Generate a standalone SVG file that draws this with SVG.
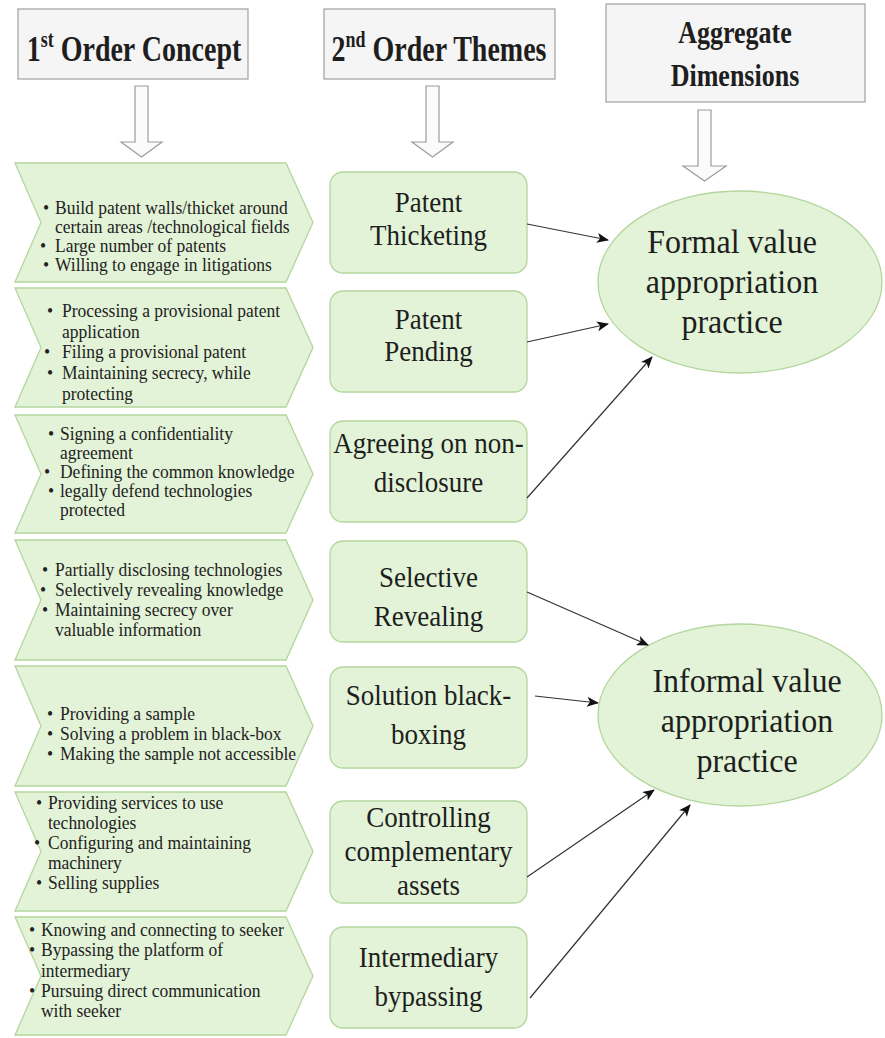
<svg xmlns="http://www.w3.org/2000/svg" width="885" height="1038" viewBox="0 0 885 1038">
  <defs>
    <marker id="arrowhead" viewBox="0 0 12 10" refX="11" refY="5" markerWidth="13" markerHeight="10" markerUnits="userSpaceOnUse" orient="auto">
      <path d="M0,0 L12,5 L0,10 L3,5 Z" fill="#111"/>
    </marker>
    <style>
      .hdr { fill: #f5f5f5; stroke: #a0a0a0; stroke-width: 1.2; }
      .hdr-text { font-family: "Liberation Serif", "Times New Roman", serif; font-weight: bold; fill: #1e1e1e; text-anchor: middle; }
      .hollow { fill: #fbfbfb; stroke: #9c9c9c; stroke-width: 1.2; }
      .green { fill: #e2f3d7; stroke: #b4d69d; stroke-width: 1.3; }
      .item { font-family: "Liberation Serif", "Times New Roman", serif; font-size: 17.5px; fill: #222; }
      .theme { font-family: "Liberation Serif", "Times New Roman", serif; font-size: 27px; fill: #1e1e1e; text-anchor: middle; }
      .dim { font-family: "Liberation Serif", "Times New Roman", serif; font-size: 32px; fill: #1e1e1e; text-anchor: middle; }
      .link { fill: none; stroke: #333; stroke-width: 1.2; marker-end: url(#arrowhead); }
    </style>
  </defs>

  <!-- Column headers -->
  <g id="header-first-order">
    <rect class="hdr" x="18" y="9" width="230" height="70"/>
    <text class="hdr-text" transform="translate(134,61) scale(1,1.3)" font-size="28">1<tspan font-size="18" dy="-11">st</tspan><tspan dy="11"> Order Concept</tspan></text>
  </g>
  <g id="header-second-order">
    <rect class="hdr" x="324" y="9" width="231" height="70"/>
    <text class="hdr-text" transform="translate(439,61) scale(1,1.3)" font-size="28">2<tspan font-size="18" dy="-11">nd</tspan><tspan dy="11"> Order Themes</tspan></text>
  </g>
  <g id="header-aggregate">
    <rect class="hdr" x="606" y="4" width="259" height="98"/>
    <text class="hdr-text" transform="translate(735,43) scale(1,1.25)" font-size="26">Aggregate</text>
    <text class="hdr-text" transform="translate(735,86) scale(1,1.25)" font-size="26">Dimensions</text>
  </g>

  <!-- Hollow down arrows under the headers -->
  <g id="down-arrows">
    <path class="hollow" d="M135,86 H148 V142 H162 L141.5,157 L121,142 H135 Z"/>
    <path class="hollow" d="M426,86 H439 V142 H453 L432.5,157 L412,142 H426 Z"/>
    <path class="hollow" d="M698,110 H711 V166 H726 L704.5,181 L683,166 H698 Z"/>
  </g>

  <!-- First order concepts: chevrons with bullet lists (lines stretched slightly in y) -->
  <g id="concept-1">
    <path class="green" d="M15,163 H286 L313,222.5 L286,282 H15 L41,222.5 Z"/>
    <text class="item" transform="translate(0,214) scale(1,1.07)"><tspan x="43" y="0">•</tspan><tspan x="55" y="0">Build patent walls/thicket around</tspan><tspan x="55" y="17.76">certain areas /technological fields</tspan><tspan x="40" y="35.51">•</tspan><tspan x="55" y="35.51">Large number of patents</tspan><tspan x="43" y="53.27">•</tspan><tspan x="55" y="53.27">Willing to engage in litigations</tspan></text>
  </g>
  <g id="concept-2">
    <path class="green" d="M15,288 H286 L313,347.5 L286,407 H15 L41,347.5 Z"/>
    <text class="item" transform="translate(0,317) scale(1,1.07)"><tspan x="47" y="0">•</tspan><tspan x="62" y="0">Processing a provisional patent</tspan><tspan x="62" y="19.63">application</tspan><tspan x="44" y="38.32">•</tspan><tspan x="62" y="38.32">Filing a provisional patent</tspan><tspan x="47" y="57.94">•</tspan><tspan x="62" y="57.94">Maintaining secrecy, while</tspan><tspan x="62" y="77.57">protecting</tspan></text>
  </g>
  <g id="concept-3">
    <path class="green" d="M15,415 H286 L313,474 L286,533 H15 L41,474 Z"/>
    <text class="item" transform="translate(0,440) scale(1,1.07)"><tspan x="48" y="0">•</tspan><tspan x="60" y="0">Signing a confidentiality</tspan><tspan x="60" y="17.76">agreement</tspan><tspan x="44" y="35.51">•</tspan><tspan x="60" y="35.51">Defining the common knowledge</tspan><tspan x="48" y="53.27">•</tspan><tspan x="60" y="53.27">legally defend technologies</tspan><tspan x="60" y="71.03">protected</tspan></text>
  </g>
  <g id="concept-4">
    <path class="green" d="M15,540 H286 L313,600 L286,660 H15 L41,600 Z"/>
    <text class="item" transform="translate(0,576) scale(1,1.07)"><tspan x="42" y="0">•</tspan><tspan x="55" y="0">Partially disclosing technologies</tspan><tspan x="40" y="18.69">•</tspan><tspan x="55" y="18.69">Selectively revealing knowledge</tspan><tspan x="42" y="37.38">•</tspan><tspan x="55" y="37.38">Maintaining secrecy over</tspan><tspan x="55" y="56.07">valuable information</tspan></text>
  </g>
  <g id="concept-5">
    <path class="green" d="M15,666 H286 L313,726 L286,786 H15 L41,726 Z"/>
    <text class="item" transform="translate(0,720) scale(1,1.07)"><tspan x="47" y="0">•</tspan><tspan x="60" y="0">Providing a sample</tspan><tspan x="47" y="18.69">•</tspan><tspan x="60" y="18.69">Solving a problem in black-box</tspan><tspan x="47" y="37.38">•</tspan><tspan x="60" y="37.38">Making the sample not accessible</tspan></text>
  </g>
  <g id="concept-6">
    <path class="green" d="M15,792 H286 L313,851.5 L286,911 H15 L41,851.5 Z"/>
    <text class="item" transform="translate(0,809) scale(1,1.07)"><tspan x="36" y="0">•</tspan><tspan x="48" y="0">Providing services to use</tspan><tspan x="48" y="18.69">technologies</tspan><tspan x="34" y="37.38">•</tspan><tspan x="48" y="37.38">Configuring and maintaining</tspan><tspan x="48" y="56.07">machinery</tspan><tspan x="36" y="74.77">•</tspan><tspan x="48" y="74.77">Selling supplies</tspan></text>
  </g>
  <g id="concept-7">
    <path class="green" d="M15,917 H286 L313,976 L286,1035 H15 L41,976 Z"/>
    <text class="item" transform="translate(0,936) scale(1,1.07)"><tspan x="29" y="0">•</tspan><tspan x="41" y="0">Knowing and connecting to seeker</tspan><tspan x="29" y="18.69">•</tspan><tspan x="41" y="18.69">Bypassing the platform of</tspan><tspan x="41" y="38.32">intermediary</tspan><tspan x="29" y="57.01">•</tspan><tspan x="41" y="57.01">Pursuing direct communication</tspan><tspan x="41" y="75.70">with seeker</tspan></text>
  </g>

  <!-- Second order themes -->
  <g id="theme-patent-thicketing">
    <rect class="green" x="330" y="172" width="197" height="101" rx="13"/>
    <text class="theme" transform="translate(428.5,212) scale(1,1.12)">Patent</text>
    <text class="theme" transform="translate(428.5,245) scale(1,1.12)">Thicketing</text>
  </g>
  <g id="theme-patent-pending">
    <rect class="green" x="330" y="291" width="197" height="101" rx="13"/>
    <text class="theme" transform="translate(428.5,329) scale(1,1.12)">Patent</text>
    <text class="theme" transform="translate(428.5,361) scale(1,1.12)">Pending</text>
  </g>
  <g id="theme-non-disclosure">
    <rect class="green" x="330" y="421" width="197" height="101" rx="13"/>
    <text class="theme" transform="translate(428.5,453) scale(1,1.12)">Agreeing on non-</text>
    <text class="theme" transform="translate(428.5,492) scale(1,1.12)">disclosure</text>
  </g>
  <g id="theme-selective-revealing">
    <rect class="green" x="330" y="541" width="197" height="101" rx="13"/>
    <text class="theme" transform="translate(428.5,587) scale(1,1.12)">Selective</text>
    <text class="theme" transform="translate(428.5,626) scale(1,1.12)">Revealing</text>
  </g>
  <g id="theme-black-boxing">
    <rect class="green" x="330" y="667" width="197" height="101" rx="13"/>
    <text class="theme" transform="translate(428.5,705) scale(1,1.12)">Solution black-</text>
    <text class="theme" transform="translate(428.5,744) scale(1,1.12)">boxing</text>
  </g>
  <g id="theme-complementary-assets">
    <rect class="green" x="330" y="801" width="197" height="102" rx="13"/>
    <text class="theme" transform="translate(428.5,827) scale(1,1.12)">Controlling</text>
    <text class="theme" transform="translate(428.5,861) scale(1,1.12)">complementary</text>
    <text class="theme" transform="translate(428.5,895) scale(1,1.12)">assets</text>
  </g>
  <g id="theme-intermediary-bypassing">
    <rect class="green" x="330" y="927" width="197" height="101" rx="13"/>
    <text class="theme" transform="translate(428.5,967) scale(1,1.12)">Intermediary</text>
    <text class="theme" transform="translate(428.5,1006) scale(1,1.12)">bypassing</text>
  </g>

  <!-- Aggregate dimensions -->
  <g id="dimension-formal">
    <ellipse class="green" cx="740" cy="282" rx="142" ry="91"/>
    <text class="dim" transform="translate(732,253) scale(1,1.08)">Formal value</text>
    <text class="dim" transform="translate(732,293) scale(1,1.08)">appropriation</text>
    <text class="dim" transform="translate(732,333) scale(1,1.08)">practice</text>
  </g>
  <g id="dimension-informal">
    <ellipse class="green" cx="740" cy="715" rx="142" ry="91"/>
    <text class="dim" transform="translate(747,692) scale(1,1.08)">Informal value</text>
    <text class="dim" transform="translate(747,732) scale(1,1.08)">appropriation</text>
    <text class="dim" transform="translate(747,772) scale(1,1.08)">practice</text>
  </g>

  <!-- Connectors from themes to dimensions -->
  <g id="connectors">
    <line class="link" x1="527" y1="224" x2="608" y2="240"/>
    <line class="link" x1="527" y1="342" x2="608" y2="324"/>
    <line class="link" x1="527" y1="498" x2="652" y2="357"/>
    <line class="link" x1="527" y1="592" x2="648" y2="645"/>
    <line class="link" x1="535" y1="696" x2="598" y2="703"/>
    <line class="link" x1="527" y1="877" x2="654" y2="790"/>
    <line class="link" x1="530" y1="998" x2="690" y2="805"/>
  </g>
</svg>
